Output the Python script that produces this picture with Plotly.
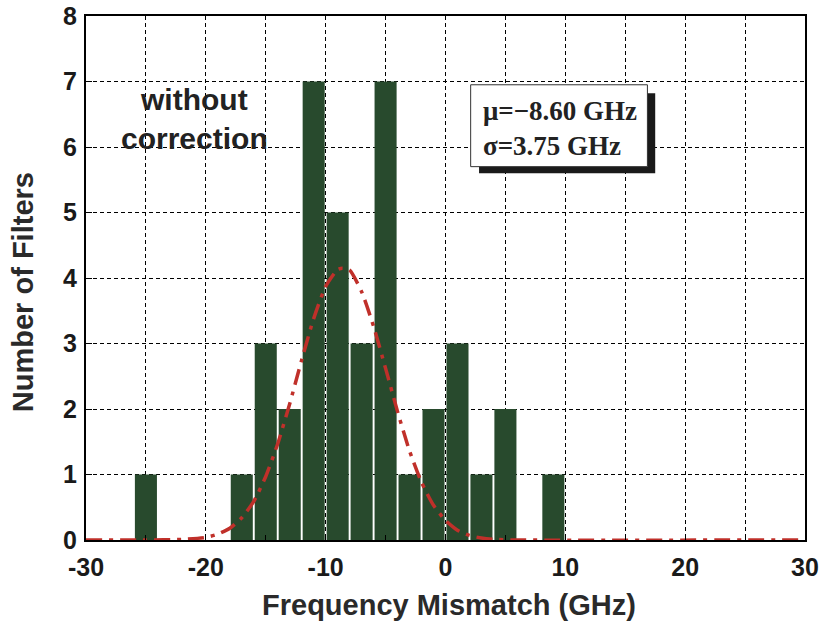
import plotly.graph_objects as go

# Histogram bins (GHz, bin centres) and counts
bin_centers = [-25, -17, -15, -13, -11, -9, -7, -5, -3, -1, 1, 3, 5, 9]
counts = [1, 1, 3, 2, 7, 5, 3, 7, 1, 2, 3, 1, 2, 1]

# Fitted curve
fit_x = [-30, -25, -22, -20, -19, -18, -17, -16, -15, -14, -13, -12, -11, -10, -9, -8.6,
         -8, -7, -6, -5, -4, -3, -2, -1, 0, 1, 2, 3, 4, 6, 30]
fit_y = [0, 0, 0.01, 0.04, 0.09, 0.18, 0.34, 0.59, 0.97, 1.47, 2.08, 2.75, 3.38, 3.87, 4.13, 4.15,
         4.12, 3.79, 3.26, 2.62, 1.96, 1.36, 0.88, 0.53, 0.30, 0.15, 0.07, 0.03, 0.01, 0, 0]

x_tickvals = [-30, -20, -10, 0, 10, 20, 30]
y_tickvals = [0, 1, 2, 3, 4, 5, 6, 7, 8]

fig = go.Figure()
fig.add_trace(go.Bar(x=bin_centers, y=counts, width=1.84,
                     marker=dict(color="#284a2d", line=dict(width=0))))
fig.add_trace(go.Scatter(x=fit_x, y=fit_y, mode="lines", cliponaxis=False,
                         line=dict(color="#c0302a", width=3.5, dash="16px,7px,4px,7px",
                                   shape="spline", smoothing=0.6)))

tickfont = dict(family="Liberation Sans", size=25, color="#1a1a1a")
titlefont = dict(family="Liberation Sans", size=29, color="#2a2a2a")
fig.update_layout(
    width=824, height=632, showlegend=False,
    margin=dict(l=86, r=19, t=16, b=92, autoexpand=False),
    plot_bgcolor="white", paper_bgcolor="white",
    font=dict(family="Liberation Sans", color="#222"),
    xaxis=dict(range=[-30, 30], tickvals=x_tickvals, ticktext=[f"<b>{v}</b>" for v in x_tickvals],
               tickfont=tickfont, ticklabelstandoff=4, automargin=False,
               showgrid=True, gridcolor="black", griddash="4px,3px", gridwidth=1,
               minor=dict(dtick=5, showgrid=True, gridcolor="black", griddash="4px,3px",
                          ticks="inside", ticklen=5, tickcolor="black"),
               ticks="inside", ticklen=6, tickcolor="black",
               showline=True, linecolor="black", linewidth=2, mirror=True, zeroline=False),
    yaxis=dict(range=[0, 8], tickvals=y_tickvals, ticktext=[f"<b>{v}</b>" for v in y_tickvals],
               tickfont=tickfont, ticklabelstandoff=2, automargin=False,
               showgrid=True, gridcolor="black", griddash="4px,3px", gridwidth=1,
               ticks="inside", ticklen=6, tickcolor="black",
               showline=True, linecolor="black", linewidth=2, mirror=True, zeroline=False),
    shapes=[
        dict(type="rect", xref="x", yref="y", x0=2.8, x1=17.5, y0=5.6, y1=6.82,
             fillcolor="#1a1a1a", line=dict(width=0), layer="above"),
        dict(type="rect", xref="x", yref="y", x0=2.1, x1=16.85, y0=5.70, y1=6.95,
             fillcolor="white", line=dict(color="#333", width=1), layer="above"),
    ],
    annotations=[
        dict(x=-0.0876, y=0.473, xref="paper", yref="paper", showarrow=False,
             textangle=-90, xanchor="center", yanchor="middle",
             text="<b>Number of Filters</b>", font=titlefont),
        dict(x=449, y=605, xref="paper", yref="paper", showarrow=False,
             xanchor="center", yanchor="middle",
             text="<b>Frequency Mismatch (GHz)</b>", font=titlefont),
        dict(x=-20.94, y=6.42, xref="x", yref="y", showarrow=False,
             text="<b>without<br>correction</b>",
             font=dict(family="Liberation Sans", size=30, color="#222"), align="center"),
        dict(x=3.0, y=6.28, xref="x", yref="y", showarrow=False, xanchor="left",
             text="<b>μ=−8.60 GHz<br>σ=3.75 GHz</b>",
             font=dict(family="Liberation Serif", size=27, color="#222"), align="left"),
    ],
)
# place the x-axis title annotation in paper units from pixel position
fig.layout.annotations[1].x = (449 - 86) / (824 - 86 - 19)
fig.layout.annotations[1].y = (632 - 92 - 605) / (632 - 16 - 92)
fig.write_html("out.html")
